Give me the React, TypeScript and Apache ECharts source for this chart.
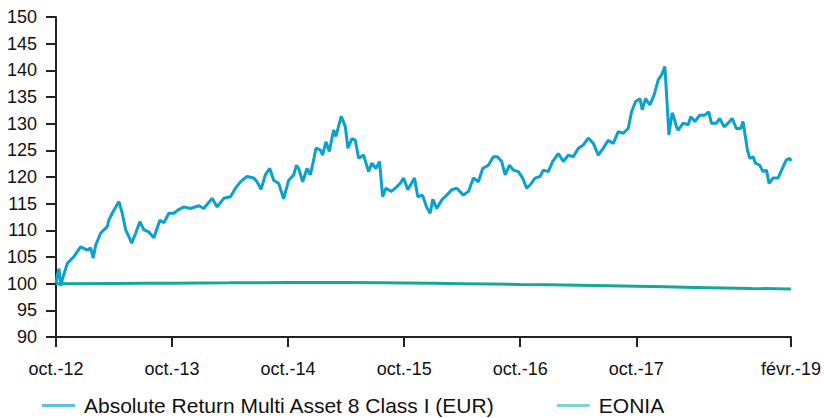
import React, { useEffect, useRef } from "react";
import * as echarts from "echarts";

const seriesNames = ["Absolute Return Multi Asset 8 Class I (EUR)", "EONIA"];

// months since oct. 2012
const fundMonths = [
  0, 0.13, 0.31, 0.49, 0.72, 1.17, 1.86, 2.55, 3.23, 3.58, 3.85, 4.1, 4.62, 5.3, 5.47, 5.81,
  6.51, 6.85, 7.2, 7.54, 7.82, 8.23, 8.67, 9.09, 9.6, 10.12, 10.74, 11.15, 11.67, 12.18, 12.6,
  13.22, 13.91, 14.77, 15.28, 16.14, 16.66, 17.35, 18.04, 18.56, 19.07, 19.75, 20.45, 20.79,
  21.2, 21.65, 22.1, 22.51, 23.03, 23.54, 24.06, 24.58, 24.86, 25.09, 25.51, 25.95, 26.3,
  26.64, 26.88, 27.33, 27.57, 27.91, 28.26, 28.71, 28.94, 29.5, 29.92, 30.18, 30.6, 30.95,
  31.29, 31.81, 32.32, 32.66, 33.08, 33.46, 33.77, 34.11, 34.67, 35.08, 35.59, 35.94, 36.38,
  37.07, 37.41, 37.9, 38.34, 38.69, 38.96, 39.37, 39.89, 40.41, 40.92, 41.44, 42.13, 42.65,
  43.16, 43.68, 44.12, 44.71, 45.23, 45.64, 46.09, 46.44, 46.88, 47.29, 47.81, 48.25, 48.67,
  49.02, 49.53, 50.05, 50.39, 50.91, 51.35, 51.94, 52.46, 52.97, 53.49, 54.01, 54.52, 55.04,
  55.56, 56.07, 56.59, 57.1, 57.62, 58.14, 58.65, 59.17, 59.51, 59.92, 60.38, 60.62, 60.96,
  61.41, 61.85, 62.27, 62.61, 62.96, 63.3, 63.37, 63.71, 63.82, 64.16, 64.33, 64.85, 65.37,
  65.64, 66.06, 66.57, 67.09, 67.5, 67.77, 68.29, 68.64, 69.08, 69.5, 69.91, 70.35, 70.81,
  71.04, 71.28, 71.49, 71.74, 72.08, 72.32, 72.77, 73.11, 73.46, 73.73, 74.14, 74.66, 75.18,
  75.52, 75.87, 76,
];

const fundValues = [
  100, 101.6, 102.8, 99.6, 101.2, 103.8, 105.1, 106.9, 106.3, 106.7, 104.8, 107.2, 109.5,
  110.7, 111.9, 113.2, 115.4, 113.2, 110.1, 108.8, 107.6, 109.4, 111.6, 110.1, 109.7, 108.6,
  111.9, 111.4, 113.2, 113.2, 113.8, 114.4, 114.1, 114.6, 114.1, 116.0, 114.4, 116.0, 116.3,
  117.9, 119.1, 120.1, 119.8, 119.1, 117.7, 120.4, 121.6, 119.4, 118.8, 115.9, 119.4, 120.4,
  122.2, 121.6, 119.1, 121.6, 120.4, 123.2, 125.4, 125.1, 124.1, 126.6, 124.8, 128.8, 127.6,
  131.4, 129.4, 125.4, 127.2, 126.9, 123.5, 124.1, 121.0, 122.6, 121.6, 122.9, 116.3, 117.9,
  117.3, 117.9, 118.8, 119.8, 117.6, 119.8, 116.3, 116.6, 114.3, 113.2, 115.8, 114.1, 115.7,
  116.6, 117.6, 117.9, 116.6, 117.3, 119.8, 119.1, 121.6, 122.2, 123.8, 123.8, 122.9, 120.4,
  122.2, 121.3, 121.0, 119.8, 117.9, 118.5, 119.8, 120.1, 121.3, 121.0, 122.9, 124.4, 122.9,
  124.1, 123.8, 125.4, 126.0, 127.3, 126.3, 124.1, 125.4, 126.9, 126.3, 128.5, 128.2, 129.1,
  132.2, 134.1, 134.7, 132.6, 134.7, 133.5, 135.4, 138.2, 139.1, 140.7, 130.4, 127.9, 132.0,
  131.6, 129.4, 128.8, 130.1, 129.8, 131.3, 130.4, 131.6, 131.6, 132.2, 130.1, 130.1, 131.0,
  129.4, 130.1, 131.0, 129.1, 129.1, 130.4, 127.6, 125.1, 123.5, 123.8, 122.6, 122.2, 121.0,
  121.3, 118.8, 119.8, 119.8, 121.9, 123.2, 123.5, 123.0,
];

const eoniaMonths = [0, 6, 12, 18, 24, 30, 36, 42, 48, 54, 60, 66, 72, 76];
const eoniaValues = [100, 100.05, 100.1, 100.15, 100.2, 100.2, 100.12, 100.0, 99.85, 99.7, 99.5, 99.3, 99.1, 99.0];

const xTickValues = [0, 12, 24, 36, 48, 60, 76];
const xTickLabels = ["oct.-12", "oct.-13", "oct.-14", "oct.-15", "oct.-16", "oct.-17", "févr.-19"];

const FONT = "Liberation Sans, Arial, Helvetica, sans-serif";

export default function App() {
  const ref = useRef<HTMLDivElement>(null);
  useEffect(() => {
    if (!ref.current) return;
    const chart = echarts.init(ref.current, undefined, { renderer: "svg" });
    chart.setOption({
      animation: false,
      grid: { left: 56, right: 31, top: 17, bottom: 81 },
      legend: {
        left: 42,
        top: 395,
        padding: 0,
        itemWidth: 33,
        itemHeight: 3,
        itemGap: 62,
        icon: "rect",
        textStyle: { fontFamily: FONT, fontSize: 21, color: "#111", padding: [0, 0, 0, 4] },
        data: [
          { name: seriesNames[0], itemStyle: { color: "#5cc1df" } },
          { name: seriesNames[1], itemStyle: { color: "#7fd6cb" } },
        ],
      },
      xAxis: {
        type: "value",
        min: 0,
        max: 76,
        splitLine: { show: false },
        axisLine: { show: true, onZero: false, lineStyle: { color: "#222", width: 2 } },
        axisTick: { show: true, length: 10, customValues: xTickValues, lineStyle: { color: "#222", width: 2 } },
        axisLabel: {
          customValues: xTickValues,
          margin: 23,
          fontFamily: FONT,
          fontSize: 18,
          color: "#111",
          formatter: (v: number) => xTickLabels[xTickValues.indexOf(v)] ?? "",
        },
      },
      yAxis: {
        type: "value",
        min: 90,
        max: 150,
        interval: 5,
        splitLine: { show: false },
        axisLine: { show: true, lineStyle: { color: "#222", width: 2 } },
        axisTick: { show: true, length: 10, lineStyle: { color: "#222", width: 2 } },
        axisLabel: { margin: 19, fontFamily: FONT, fontSize: 18, color: "#111" },
      },
      series: [
        {
          name: seriesNames[1],
          type: "line",
          showSymbol: false,
          smooth: true,
          data: eoniaMonths.map((m, i) => [m, eoniaValues[i]]),
          lineStyle: { color: "#14a897", width: 3 },
          itemStyle: { color: "#14a897" },
          z: 2,
        },
        {
          name: seriesNames[0],
          type: "line",
          showSymbol: false,
          data: fundMonths.map((m, i) => [m, fundValues[i]]),
          lineStyle: { color: "#0aa1ca", width: 3 },
          itemStyle: { color: "#0aa1ca" },
          z: 3,
        },
      ],
    });
    return () => chart.dispose();
  }, []);
  return <div ref={ref} style={{ position: "absolute", left: 0, top: 0, width: 824, height: 418 }} />;
}
